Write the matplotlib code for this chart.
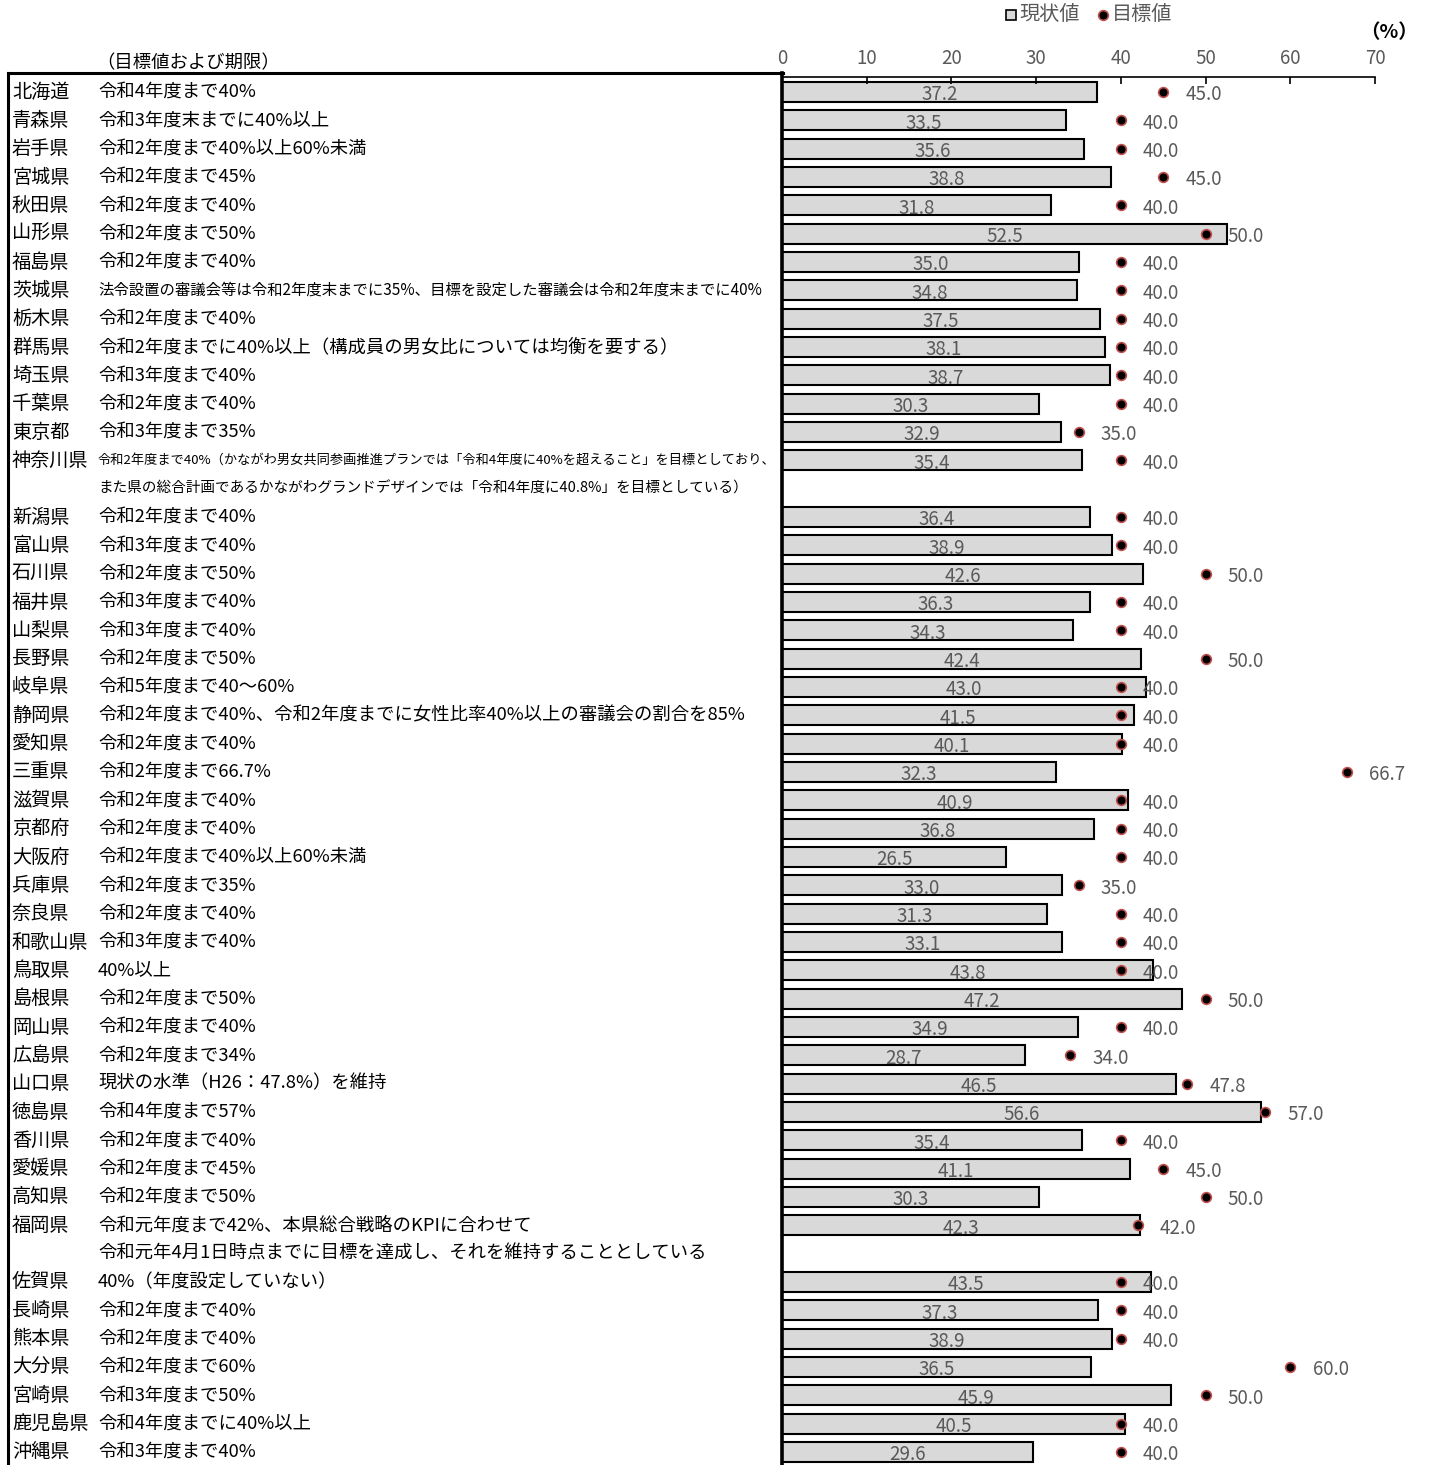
import numpy as np
import matplotlib.pyplot as plt
from matplotlib.lines import Line2D
from matplotlib.transforms import blended_transform_factory

plt.rcParams['font.family'] = ['Noto Sans CJK JP', 'DejaVu Sans']

prefs = ['北海道', '青森県', '岩手県', '宮城県', '秋田県', '山形県', '福島県', '茨城県',
         '栃木県', '群馬県', '埼玉県', '千葉県', '東京都', '神奈川県', '新潟県', '富山県',
         '石川県', '福井県', '山梨県', '長野県', '岐阜県', '静岡県', '愛知県', '三重県',
         '滋賀県', '京都府', '大阪府', '兵庫県', '奈良県', '和歌山県', '鳥取県', '島根県',
         '岡山県', '広島県', '山口県', '徳島県', '香川県', '愛媛県', '高知県', '福岡県',
         '佐賀県', '長崎県', '熊本県', '大分県', '宮崎県', '鹿児島県', '沖縄県']

goals = [
    '令和4年度まで40%', '令和3年度末までに40%以上', '令和2年度まで40%以上60%未満',
    '令和2年度まで45%', '令和2年度まで40%', '令和2年度まで50%', '令和2年度まで40%',
    '法令設置の審議会等は令和2年度末までに35%、目標を設定した審議会は令和2年度末までに40%',
    '令和2年度まで40%', '令和2年度までに40%以上（構成員の男女比については均衡を要する）',
    '令和3年度まで40%', '令和2年度まで40%', '令和3年度まで35%',
    '令和2年度まで40%（かながわ男女共同参画推進プランでは「令和4年度に40%を超えること」を目標としており、',
    '令和2年度まで40%', '令和3年度まで40%', '令和2年度まで50%', '令和3年度まで40%',
    '令和3年度まで40%', '令和2年度まで50%', '令和5年度まで40～60%',
    '令和2年度まで40%、令和2年度までに女性比率40%以上の審議会の割合を85%',
    '令和2年度まで40%', '令和2年度まで66.7%', '令和2年度まで40%', '令和2年度まで40%',
    '令和2年度まで40%以上60%未満', '令和2年度まで35%', '令和2年度まで40%', '令和3年度まで40%',
    '40%以上', '令和2年度まで50%', '令和2年度まで40%', '令和2年度まで34%',
    '現状の水準（H26：47.8%）を維持', '令和4年度まで57%', '令和2年度まで40%',
    '令和2年度まで45%', '令和2年度まで50%', '令和元年度まで42%、本県総合戦略のKPIに合わせて',
    '40%（年度設定していない）', '令和2年度まで40%', '令和2年度まで40%', '令和2年度まで60%',
    '令和3年度まで50%', '令和4年度までに40%以上', '令和3年度まで40%']

# second line for entries that wrap
goal_notes = {
    '神奈川県': 'また県の総合計画であるかながわグランドデザインでは「令和4年度に40.8%」を目標としている）',
    '福岡県': '令和元年4月1日時点までに目標を達成し、それを維持することとしている',
}
# long entries set in a smaller size: (first line, second line)
small_goals = {'茨城県': (11.1, None), '神奈川県': (9.5, 10.5)}

current = [37.2, 33.5, 35.6, 38.8, 31.8, 52.5, 35.0, 34.8, 37.5, 38.1, 38.7, 30.3,
           32.9, 35.4, 36.4, 38.9, 42.6, 36.3, 34.3, 42.4, 43.0, 41.5, 40.1, 32.3,
           40.9, 36.8, 26.5, 33.0, 31.3, 33.1, 43.8, 47.2, 34.9, 28.7, 46.5, 56.6,
           35.4, 41.1, 30.3, 42.3, 43.5, 37.3, 38.9, 36.5, 45.9, 40.5, 29.6]
target = [45.0, 40.0, 40.0, 45.0, 40.0, 50.0, 40.0, 40.0, 40.0, 40.0, 40.0, 40.0,
          35.0, 40.0, 40.0, 40.0, 50.0, 40.0, 40.0, 50.0, 40.0, 40.0, 40.0, 66.7,
          40.0, 40.0, 40.0, 35.0, 40.0, 40.0, 40.0, 50.0, 40.0, 34.0, 47.8, 57.0,
          40.0, 45.0, 50.0, 42.0, 40.0, 40.0, 40.0, 60.0, 50.0, 40.0, 40.0]

W, H = 1429, 1465
GRAY = '#595959'
FS = 13.2
fig = plt.figure(figsize=(W / 100, H / 100), dpi=100)


def fx(x):
    return x / W


def fy(y):
    return 1 - y / H


ax = fig.add_axes([fx(782), 0, fx(1375) - fx(782), fy(77)])

# two-line entries take an extra row
rows = []
r = 0
for p in prefs:
    rows.append(r)
    r += 2 if p in goal_notes else 1
rows = np.array(rows)

ax.barh(rows, current, height=0.7, color='#d9d9d9', edgecolor='black', linewidth=1.5)
ax.plot(target, rows, 'o', ms=7, mfc='black', mec='#c0504d', mew=1.2, ls='none')
for y, c, t in zip(rows, current, target):
    ax.text(c / 2, y + 0.1, f'{c:.1f}', ha='center', va='center', color=GRAY, fontsize=13.5)
    ax.annotate(f'{t:.1f}', (t, y), xytext=(16, -2), textcoords='offset points',
                ha='left', va='center', color=GRAY, fontsize=13.5)

ax.set_xlim(0, 70)
ax.set_ylim(rows[-1] + 0.46, -0.53)
ax.set_xticks(range(0, 71, 10))
ax.set_yticks([])
ax.xaxis.tick_top()
ax.tick_params(axis='x', direction='in', length=5, width=1.2, color='black',
               labelcolor=GRAY, labelsize=13.5, pad=6)
ax.spines['bottom'].set_visible(False)
ax.spines['right'].set_visible(False)
ax.spines['left'].set_visible(False)
ax.spines['top'].set_linewidth(1.2)
ax.patch.set_alpha(0)

# table frame on the left
lw = 2.2
fig.add_artist(Line2D([fx(8), fx(783)], [fy(73), fy(73)], color='black', lw=lw))
fig.add_artist(Line2D([fx(8), fx(8)], [fy(73), 0], color='black', lw=lw))
fig.add_artist(Line2D([fx(782), fx(782)], [fy(73), 0], color='black', lw=2.6))

trans = blended_transform_factory(fig.transFigure, ax.transData)
fig.text(fx(96), fy(63), '（目標値および期限）', va='center', fontsize=FS)
for y, p, g in zip(rows, prefs, goals):
    fig.text(fx(12), y, p, transform=trans, va='center', fontsize=13.8)
    fs1, fs2 = small_goals.get(p, (FS, FS))
    fig.text(fx(98), y, g, transform=trans, va='center', fontsize=fs1)
    if p in goal_notes:
        fig.text(fx(98), y + 1, goal_notes[p], transform=trans, va='center', fontsize=fs2)

# legend and unit
fig.add_artist(Line2D([fx(1011)], [fy(15)], marker='s', ms=6.5, mfc='#d9d9d9',
                      mec='black', mew=1.2, ls='none'))
fig.text(fx(1019), fy(15), '現状値', va='center', color=GRAY, fontsize=14.5)
fig.add_artist(Line2D([fx(1103)], [fy(15)], marker='o', ms=7, mfc='black',
                      mec='#c0504d', mew=1.2, ls='none'))
fig.text(fx(1112), fy(15), '目標値', va='center', color=GRAY, fontsize=14.5)
fig.text(fx(1389), fy(33), '（%）', ha='center', va='center', fontsize=14, fontweight='bold')

fig.savefig('out.png', dpi=100)
